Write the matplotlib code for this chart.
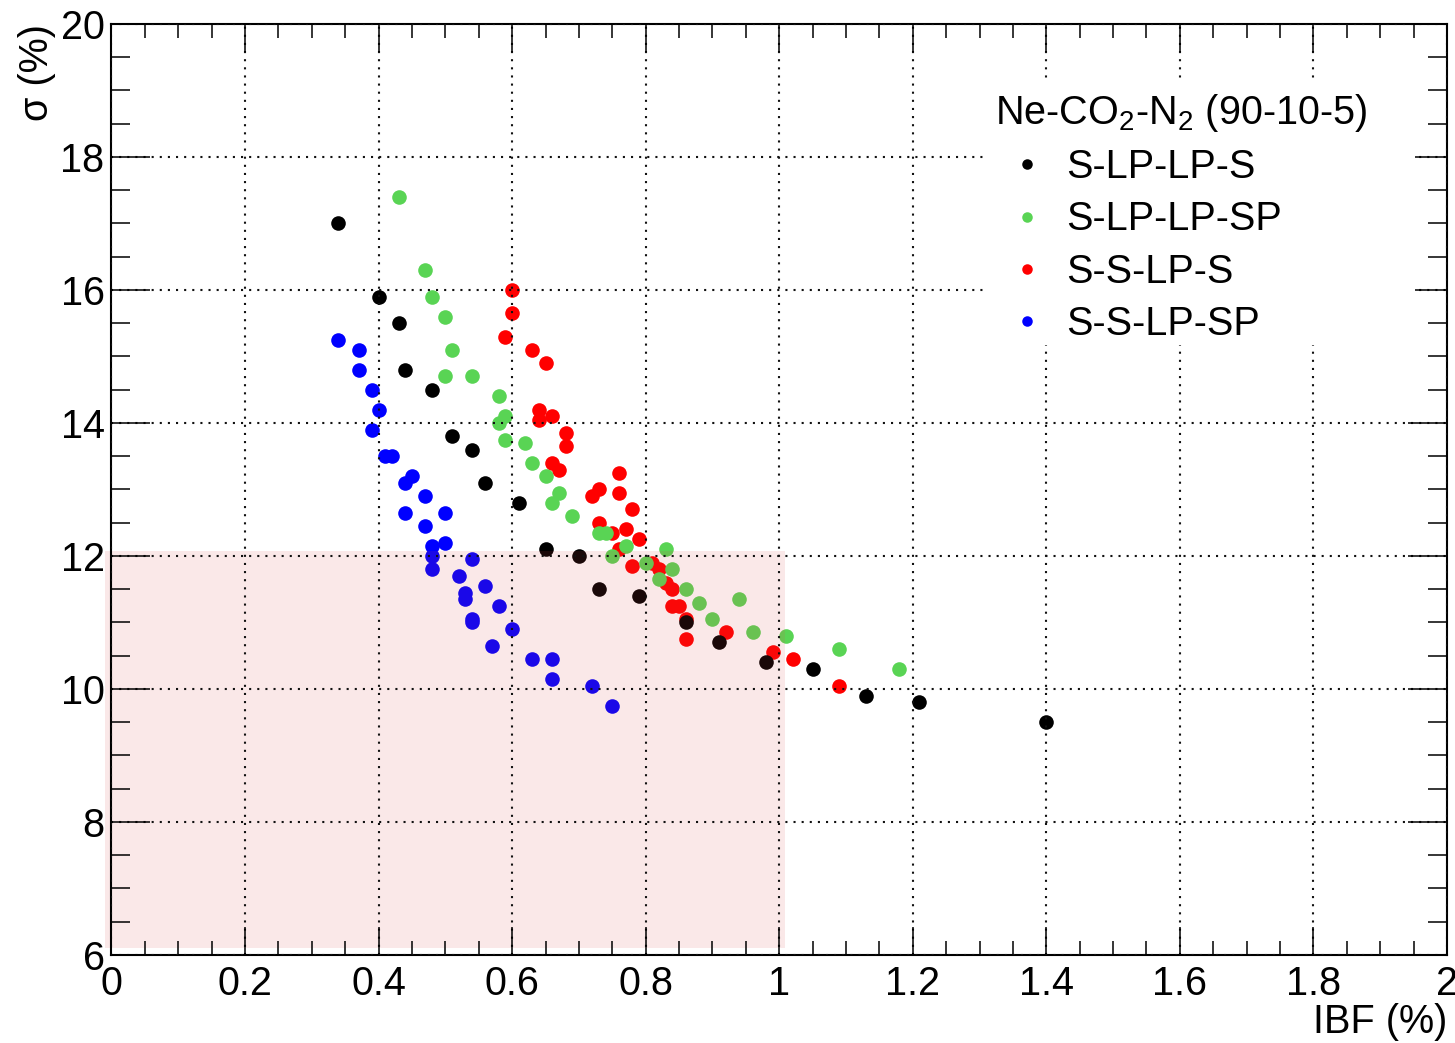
"""
Energy resolution vs ion back-flow for quadruple-GEM stacks in Ne-CO2-N2
"""

import matplotlib
matplotlib.use("Agg")
import matplotlib.pyplot as plt
from matplotlib.patches import Rectangle
from matplotlib.ticker import MultipleLocator, FormatStrFormatter

# S-LP-LP-S
ibf_slplps = [0.34, 0.40, 0.43, 0.44, 0.48, 0.51, 0.54, 0.56, 0.61, 0.65,
              0.70, 0.73, 0.79, 0.86, 0.91, 0.98, 1.05, 1.13, 1.21, 1.40]
sig_slplps = [17.0, 15.9, 15.5, 14.8, 14.5, 13.8, 13.6, 13.1, 12.8, 12.1,
              12.0, 11.5, 11.4, 11.0, 10.7, 10.4, 10.3, 9.9, 9.8, 9.5]

# S-LP-LP-SP
ibf_slplpsp = [0.43, 0.47, 0.48, 0.50, 0.51, 0.50, 0.54, 0.58, 0.59, 0.58, 0.59,
               0.62, 0.63, 0.65, 0.67, 0.66, 0.69, 0.73, 0.74, 0.77, 0.75, 0.80,
               0.83, 0.84, 0.82, 0.86, 0.88, 0.94, 0.90, 0.96, 1.01, 1.09, 1.18]
sig_slplpsp = [17.4, 16.3, 15.9, 15.6, 15.1, 14.7, 14.7, 14.4, 14.1, 14.0, 13.75,
               13.7, 13.4, 13.2, 12.95, 12.8, 12.6, 12.35, 12.35, 12.15, 12.0, 11.9,
               12.1, 11.8, 11.65, 11.5, 11.3, 11.35, 11.05, 10.85, 10.8, 10.6, 10.3]

# S-S-LP-S
ibf_sslps = [0.60, 0.60, 0.59, 0.63, 0.65, 0.64, 0.66, 0.64, 0.68, 0.68, 0.66, 0.67,
             0.76, 0.73, 0.72, 0.76, 0.78, 0.73, 0.75, 0.77, 0.79, 0.76, 0.78, 0.81,
             0.82, 0.83, 0.84, 0.84, 0.85, 0.86, 0.86, 0.92, 0.99, 1.02, 1.09]
sig_sslps = [16.0, 15.65, 15.3, 15.1, 14.9, 14.2, 14.1, 14.05, 13.85, 13.65, 13.4, 13.3,
             13.25, 13.0, 12.9, 12.95, 12.7, 12.5, 12.35, 12.4, 12.25, 12.1, 11.85, 11.9,
             11.8, 11.6, 11.5, 11.25, 11.25, 11.05, 10.75, 10.85, 10.55, 10.45, 10.05]

# S-S-LP-SP
ibf_sslpsp = [0.34, 0.37, 0.37, 0.39, 0.40, 0.39, 0.41, 0.42, 0.45, 0.44, 0.47,
              0.50, 0.44, 0.47, 0.50, 0.48, 0.48, 0.48, 0.54, 0.52, 0.56, 0.53,
              0.53, 0.58, 0.54, 0.54, 0.60, 0.57, 0.63, 0.66, 0.66, 0.72, 0.75]
sig_sslpsp = [15.25, 15.1, 14.8, 14.5, 14.2, 13.9, 13.5, 13.5, 13.2, 13.1, 12.9,
              12.65, 12.65, 12.45, 12.2, 12.15, 12.0, 11.8, 11.95, 11.7, 11.55, 11.45,
              11.35, 11.25, 11.05, 11.0, 10.9, 10.65, 10.45, 10.45, 10.15, 10.05, 9.75]

labels = ["S-LP-LP-S", "S-LP-LP-SP", "S-S-LP-S", "S-S-LP-SP"]
colors = ["#000000", "#59d454", "#ff0000", "#0000ff"]

FS = 28.5

plt.rcParams["font.family"] = ["Liberation Sans", "DejaVu Sans"]
plt.rcParams["mathtext.fontset"] = "custom"
plt.rcParams["mathtext.rm"] = "Liberation Sans"
plt.rcParams["mathtext.it"] = "Liberation Sans:italic"

fig = plt.figure(figsize=(14.55, 10.43), dpi=100)
ax = fig.add_axes([0.0766, 0.0844, 0.9179, 0.8926])

# red first so the other series sit on top where they overlap
order = [2, 1, 0, 3]
data = [(ibf_slplps, sig_slplps), (ibf_slplpsp, sig_slplpsp),
        (ibf_sslps, sig_sslps), (ibf_sslpsp, sig_sslpsp)]
handles = {}
for i in order:
    x, y = data[i]
    h, = ax.plot(x, y, "o", color=colors[i], markersize=10.5,
                 markeredgewidth=0, label=labels[i], zorder=2)
    handles[i] = h

# acceptance region, drawn translucent over the points
ax.add_patch(Rectangle((-0.009, 6.1), 1.018, 5.97, facecolor="#de4848",
                       alpha=0.12, lw=0, zorder=2.2, clip_on=False))

ax.set_xlim(0, 2)
ax.set_ylim(6, 20)
ax.set_axisbelow(False)
ax.xaxis.set_major_locator(MultipleLocator(0.2))
ax.xaxis.set_minor_locator(MultipleLocator(0.05))
ax.yaxis.set_major_locator(MultipleLocator(2))
ax.yaxis.set_minor_locator(MultipleLocator(0.5))
ax.xaxis.set_major_formatter(FormatStrFormatter("%g"))
ax.yaxis.set_major_formatter(FormatStrFormatter("%g"))

ax.tick_params(which="both", direction="in", top=True, right=True,
               width=1.1, labelsize=FS)
ax.tick_params(axis="x", which="major", length=20, pad=7)
ax.tick_params(axis="x", which="minor", length=10)
ax.tick_params(axis="y", which="major", length=28, pad=5)
ax.tick_params(axis="y", which="minor", length=14)
for sp in ax.spines.values():
    sp.set_linewidth(1.5)

ax.grid(True, which="major", color="#111111", linestyle=(0, (1, 2.9)), linewidth=1.5)

ax.set_xlabel("IBF (%)", fontsize=FS, loc="right", labelpad=0)
ax.set_ylabel("σ (%)", fontsize=FS, loc="top", labelpad=3)

# white box behind the legend hides the grid
ax.add_patch(Rectangle((0.654, 0.655), 0.322, 0.285, transform=ax.transAxes,
                       facecolor="white", lw=0, zorder=2.6))

leg = ax.legend([handles[i] for i in range(4)], labels,
                title="Ne-CO$_{2}$-N$_{2}$ (90-10-5)", title_fontsize=FS,
                fontsize=FS, loc="upper left", bbox_to_anchor=(0.6616, 0.927),
                frameon=False, borderpad=0, borderaxespad=0, markerscale=0.72,
                handlelength=1.6, handletextpad=0.2, labelspacing=0.36,
                alignment="left")
leg.set_zorder(5)

fig.savefig("out.png", dpi=100)
